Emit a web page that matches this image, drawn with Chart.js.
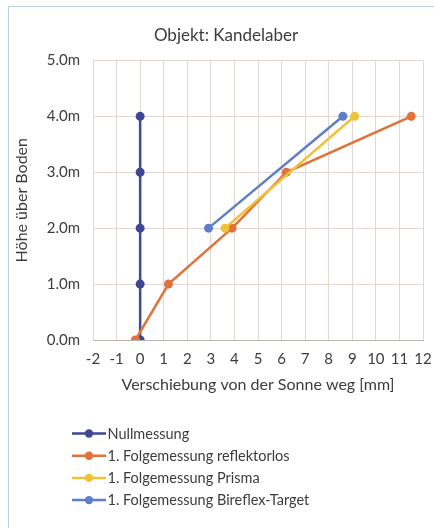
<!DOCTYPE html>
<html>
<head>
<meta charset="utf-8">
<script src="https://cdn.jsdelivr.net/npm/chart.js@4"></script>
<style>
  html, body { margin: 0; padding: 0; background: #fff; overflow: hidden; }
  #wrap { position: relative; width: 434px; height: 529px; overflow: hidden; }
  #frame { position: absolute; left: 8px; top: 6px; width: 460px; height: 521px;
           border-left: 1px solid #b9d0e8; border-top: 1px solid #b9d0e8; }
  #chart { position: absolute; left: 0; top: 0; }
</style>
</head>
<body>
<div id="wrap">
  <div id="frame"></div>
  <canvas id="chart" width="456" height="529"></canvas>
</div>
<script>
// --- Data ---
const chartTitle = 'Objekt: Kandelaber';
const xTitle = 'Verschiebung von der Sonne weg [mm]';
const yTitle = 'Höhe über Boden';

const heights = [0, 1, 2, 3, 4];           // m
const nullX = [0, 0, 0, 0, 0];
const reflektorlosX = [-0.2, 1.2, 3.9, 6.2, 11.5];
const prismaX = [null, null, 3.6, null, 9.1];
const bireflexX = [null, null, 2.9, null, 8.6];

const seriesLabels = [
    'Nullmessung',
    '1. Folgemessung reflektorlos',
    '1. Folgemessung Prisma',
    '1. Folgemessung Bireflex-Target'
];
const seriesX = [nullX, reflektorlosX, prismaX, bireflexX];
const seriesColors = ['#3e4892', '#e0723a', '#f0c238', '#5f7ec8'];

const textColor = '#3c3c3c';
const gridColor = '#e3d7d2';
const fontFamily = 'Lato, "Open Sans", sans-serif';

// pair x values with heights, skip missing readings
const toPoints = xs => xs
    .map((x, i) => ({ x: x, y: heights[i] }))
    .filter(p => p.x !== null);

const datasets = seriesX.map((xs, i) => ({
    label: seriesLabels[i],
    data: toPoints(xs),
    showLine: true,
    borderColor: seriesColors[i],
    backgroundColor: seriesColors[i],
    borderWidth: 2.5,
    pointRadius: 4.5,
    pointHoverRadius: 4.5,
    pointBorderWidth: 0,
    order: seriesX.length - i   // later series on top, like the original
}));

// --- Legend drawn below the plot, one entry per row ---
const rowLegend = {
    id: 'rowLegend',
    afterDraw(chart) {
        const ctx = chart.ctx;
        const x0 = 72, x1 = 106, firstY = 433.5, step = 22.2;
        ctx.save();
        ctx.font = '14.5px ' + fontFamily;
        ctx.textBaseline = 'middle';
        chart.data.datasets.forEach((ds, i) => {
            const y = firstY + i * step;
            ctx.strokeStyle = ds.borderColor;
            ctx.lineWidth = 2.5;
            ctx.beginPath();
            ctx.moveTo(x0, y);
            ctx.lineTo(x1, y);
            ctx.stroke();
            ctx.fillStyle = ds.backgroundColor;
            ctx.beginPath();
            ctx.arc((x0 + x1) / 2, y, 4.2, 0, Math.PI * 2);
            ctx.fill();
            ctx.fillStyle = textColor;
            ctx.fillText(ds.label, x1 + 1.5, y + 0.5);
        });
        ctx.restore();
    }
};

new Chart(document.getElementById('chart'), {
    type: 'scatter',
    data: { datasets },
    plugins: [rowLegend],
    options: {
        responsive: false,
        animation: false,
        layout: { padding: { left: 8, right: 12, top: 0, bottom: 129 } },
        plugins: {
            legend: { display: false },
            tooltip: { enabled: false },
            title: {
                display: true,
                text: chartTitle,
                color: textColor,
                font: { family: fontFamily, size: 17, weight: 'normal' },
                padding: { top: 25, bottom: 15 }
            }
        },
        scales: {
            x: {
                type: 'linear',
                min: -2,
                max: 12,
                afterFit: s => { s.height = 60; },
                grid: { color: gridColor, drawTicks: false },
                border: { color: '#bfb3ae' },
                ticks: {
                    stepSize: 1,
                    padding: 10,
                    color: textColor,
                    font: { family: fontFamily, size: 15 }
                },
                title: {
                    display: true,
                    text: xTitle,
                    color: textColor,
                    font: { family: fontFamily, size: 16 },
                    padding: 6
                }
            },
            y: {
                type: 'linear',
                min: 0,
                max: 5,
                afterFit: s => { s.width = 85; },
                grid: { color: gridColor, drawTicks: false },
                border: { color: gridColor },
                ticks: {
                    stepSize: 1,
                    padding: 13,
                    color: textColor,
                    font: { family: fontFamily, size: 15 },
                    callback: v => v.toFixed(1) + 'm'
                },
                title: {
                    display: true,
                    text: yTitle,
                    color: textColor,
                    font: { family: fontFamily, size: 16 },
                    padding: 4
                }
            },
            // empty spacer on the right, the original frame runs past the page
            spacer: {
                type: 'linear',
                position: 'right',
                min: 0,
                max: 5,
                afterFit: s => { s.width = 21; },
                grid: { display: false },
                border: { display: false },
                ticks: { display: false }
            }
        }
    }
});
</script>
</body>
</html>
